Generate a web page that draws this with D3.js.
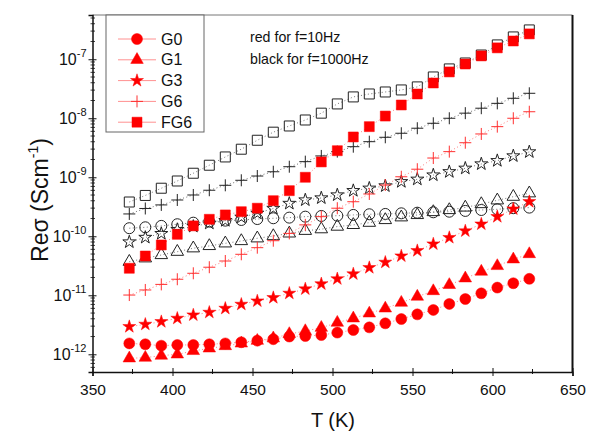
<!DOCTYPE html>
<html><head><meta charset="utf-8">
<script src="https://cdn.jsdelivr.net/npm/d3@7"></script>
<style>body{margin:0;background:#fff} svg{display:block} text{font-family:"Liberation Sans",Arial,sans-serif}</style>
</head><body><svg id="c" width="589" height="433"></svg>
<script>
const temps = [373,383,393,403,413,423,433,443,453,463,473,483,493,503,513,523,533,543,553,563,573,583,593,603,613,623];
// 10 Hz (red, filled)
const G0_10Hz = [1.53e-12,1.48e-12,1.40e-12,1.44e-12,1.44e-12,1.48e-12,1.53e-12,1.60e-12,1.70e-12,1.80e-12,2.0e-12,2.04e-12,2.12e-12,2.33e-12,2.58e-12,2.86e-12,3.35e-12,3.96e-12,4.75e-12,5.64e-12,7.13e-12,8.65e-12,1.08e-11,1.35e-11,1.60e-11,1.90e-11];
const G1_10Hz = [8.55e-13,8.77e-13,9.5e-13,9.97e-13,1.14e-12,1.26e-12,1.38e-12,1.53e-12,1.70e-12,1.87e-12,2.21e-12,2.48e-12,2.82e-12,3.44e-12,4.07e-12,4.94e-12,6.0e-12,7.5e-12,9.5e-12,1.18e-11,1.50e-11,1.94e-11,2.52e-11,3.14e-11,4.07e-11,5.0e-11];
const G3_10Hz = [2.94e-12,3.22e-12,3.57e-12,4.07e-12,4.63e-12,5.14e-12,6.0e-12,7.03e-12,8.0e-12,9.12e-12,1.08e-11,1.28e-11,1.56e-11,1.90e-11,2.30e-11,2.94e-11,3.62e-11,4.63e-11,5.70e-11,7.40e-11,9.5e-11,1.23e-10,1.61e-10,2.15e-10,2.90e-10,3.86e-10];
const G6_10Hz = [1.01e-11,1.23e-11,1.53e-11,1.87e-11,2.36e-11,2.99e-11,3.81e-11,4.95e-11,6.41e-11,8.41e-11,1.12e-10,1.56e-10,2.15e-10,2.99e-10,3.85e-10,5.21e-10,7.39e-10,1.02e-9,1.37e-9,2.12e-9,2.72e-9,3.85e-9,5.42e-9,7.21e-9,1.0e-8,1.29e-8];
const FG6_10Hz = [2.87e-11,4.63e-11,7.13e-11,1.08e-10,1.50e-10,1.94e-10,2.30e-10,2.61e-10,2.99e-10,4.01e-10,5.93e-10,1.0e-9,1.82e-9,2.82e-9,4.82e-9,7.21e-9,1.09e-8,1.68e-8,2.58e-8,3.96e-8,6.1e-8,8.3e-8,1.14e-7,1.56e-7,2.04e-7,2.69e-7];
// 1000 Hz (black, open)
const G0_1kHz = [1.37e-10,1.42e-10,1.50e-10,1.60e-10,1.70e-10,1.77e-10,1.84e-10,1.89e-10,1.96e-10,2.02e-10,2.07e-10,2.15e-10,2.21e-10,2.23e-10,2.30e-10,2.36e-10,2.39e-10,2.45e-10,2.51e-10,2.55e-10,2.61e-10,2.69e-10,2.79e-10,2.87e-10,2.99e-10,3.06e-10];
const G1_1kHz = [3.71e-11,4.24e-11,4.82e-11,5.48e-11,6.27e-11,6.86e-11,7.6e-11,8.32e-11,9.25e-11,1.01e-10,1.12e-10,1.24e-10,1.32e-10,1.46e-10,1.56e-10,1.70e-10,1.89e-10,2.10e-10,2.30e-10,2.58e-10,2.79e-10,3.08e-10,3.52e-10,4.07e-10,4.69e-10,5.36e-10];
const G3_1kHz = [8.0e-11,9.55e-11,1.11e-10,1.30e-10,1.47e-10,1.66e-10,1.84e-10,2.10e-10,2.45e-10,2.96e-10,3.60e-10,4.12e-10,4.46e-10,5.01e-10,5.93e-10,6.52e-10,7.13e-10,8.41e-10,9.25e-10,1.09e-9,1.24e-9,1.42e-9,1.68e-9,1.91e-9,2.30e-9,2.69e-9];
const G6_1kHz = [2.39e-10,2.96e-10,3.40e-10,4.12e-10,5.01e-10,6.03e-10,7.31e-10,8.89e-10,1.05e-9,1.24e-9,1.51e-9,1.84e-9,2.30e-9,2.72e-9,3.30e-9,4.01e-9,4.76e-9,5.57e-9,6.78e-9,8.22e-9,1.0e-8,1.22e-8,1.48e-8,1.79e-8,2.18e-8,2.65e-8];
const FG6_1kHz = [3.81e-10,4.92e-10,6.52e-10,8.65e-10,1.17e-9,1.60e-9,2.21e-9,2.99e-9,4.24e-9,5.81e-9,7.40e-9,9.35e-9,1.22e-8,1.75e-8,2.30e-8,2.58e-8,2.79e-8,3.02e-8,3.40e-8,5.01e-8,6.86e-8,8.65e-8,1.18e-7,1.75e-7,2.39e-7,3.14e-7];

const seriesNames = ["G0","G1","G3","G6","FG6"];
const xTicks = [350,400,450,500,550,600,650];
const yTickExps = [-12,-11,-10,-9,-8,-7];
const annotations = ["red for f=10Hz","black for f=1000Hz"];

const svg = d3.select("#c");
const L=92.5, R=572.5, T=15, B=372;
const x = d3.scaleLinear().domain([350,650]).range([L,R]);
const y = d3.scaleLog().domain([Math.pow(10,-12.3), Math.pow(10,-6.25)]).range([B,T]);

const plusType = {draw(ctx,size){const r=Math.sqrt(size)/2;ctx.moveTo(-r,0);ctx.lineTo(r,0);ctx.moveTo(0,-r);ctx.lineTo(0,r);}};
const shapes = {
  G0:{type:d3.symbolCircle,size:95},
  G1:{type:d3.symbolTriangle,size:68},
  G3:{type:d3.symbolStar,size:52},
  G6:{type:plusType,size:144},
  FG6:{type:d3.symbolSquare,size:100}
};
const redData = {G0:G0_10Hz,G1:G1_10Hz,G3:G3_10Hz,G6:G6_10Hz,FG6:FG6_10Hz};
const blackData = {G0:G0_1kHz,G1:G1_1kHz,G3:G3_1kHz,G6:G6_1kHz,FG6:FG6_1kHz};

const line = d3.line().x((d,i)=>x(temps[i])).y(d=>y(d));
const plot = svg.append("g");

function drawSeries(data, name, red){
  plot.append("path").attr("d", line(data)).attr("fill","none")
    .attr("stroke", red ? "#ff7070" : "#666").attr("stroke-width",0.9)
    .attr("stroke-dasharray","1,2.5");
  const sh = shapes[name];
  const sym = d3.symbol().type(sh.type).size(sh.size);
  plot.append("g").selectAll("path").data(data).join("path")
    .attr("transform",(d,i)=>`translate(${x(temps[i])},${y(d)})`)
    .attr("d", sym)
    .attr("fill", name==="G6" ? "none" : (red ? "#ff0000" : "none"))
    .attr("stroke", red ? (name==="G6" ? "#ff3030" : "#ff0000") : "#222")
    .attr("stroke-width", red ? (name==="G6"?1:0.5) : 1);
}
seriesNames.forEach(n=>drawSeries(blackData[n], n, false));
seriesNames.forEach(n=>drawSeries(redData[n], n, true));

// frame
svg.append("line").attr("x1",L).attr("x2",R).attr("y1",T).attr("y2",T).attr("stroke","#777").attr("stroke-width",1);
svg.append("line").attr("x1",R).attr("x2",R).attr("y1",T).attr("y2",B).attr("stroke","#111").attr("stroke-width",2);

// x axis
const xAxis = svg.append("g").attr("transform",`translate(0,${B})`)
  .call(d3.axisBottom(x).tickValues(xTicks).tickSize(4).tickPadding(8).tickFormat(d3.format("d")));
xAxis.select(".domain").attr("stroke","#111").attr("stroke-width",1.5);
xAxis.selectAll(".tick line").attr("y1",-4).attr("y2",4).attr("stroke","#111");
xAxis.selectAll("text").attr("font-size","15.5px").attr("fill","#111").attr("font-family",'"Liberation Sans",Arial,sans-serif');
const xMinor = xTicks.slice(0,-1).map(v=>v+25);
svg.append("g").selectAll("line").data(xMinor).join("line")
  .attr("x1",d=>x(d)).attr("x2",d=>x(d)).attr("y1",B-3).attr("y2",B+2).attr("stroke","#111");

// y axis
const yMajor = yTickExps.map(e=>Math.pow(10,e));
const yAxis = svg.append("g").attr("transform",`translate(${L},0)`)
  .call(d3.axisLeft(y).tickValues(yMajor).tickSize(4).tickFormat(""));
yAxis.select(".domain").attr("stroke","#111").attr("stroke-width",1.5);
yAxis.selectAll(".tick line").attr("x1",-4).attr("x2",4).attr("stroke","#111");
const yMinor = [];
for(let e=-13;e<=-7;e++){for(let m=2;m<=9;m++){const v=m*Math.pow(10,e); if(v>y.domain()[0]&&v<y.domain()[1]) yMinor.push(v);}}
svg.append("g").selectAll("line").data(yMinor).join("line")
  .attr("x1",L-2).attr("x2",L+2.5).attr("y1",d=>y(d)).attr("y2",d=>y(d)).attr("stroke","#111").attr("stroke-width",0.8);
const yl = svg.append("g").selectAll("text").data(yTickExps).join("text")
  .attr("x",L-6).attr("y",e=>y(Math.pow(10,e))+6).attr("text-anchor","end").attr("fill","#111");
yl.append("tspan").attr("font-size","16px").text("10");
yl.append("tspan").attr("font-size","11px").attr("dy",-8).text(e=>"-"+Math.abs(e));

// axis titles
svg.append("text").attr("x",333).attr("y",427).attr("text-anchor","middle").attr("font-size","20px").attr("fill","#111").text("T (K)");
const yt = svg.append("text").attr("transform","translate(48,200) rotate(-90)").attr("text-anchor","middle").attr("font-size","23px").attr("fill","#111");
yt.append("tspan").text("Reσ (Scm");
yt.append("tspan").attr("font-size","14px").attr("dy",-10).text("-1");
yt.append("tspan").attr("dy",10).text(")");

// legend
svg.append("rect").attr("x",106).attr("y",T).attr("width",98).attr("height",117).attr("fill","#fff").attr("stroke","#666").attr("stroke-width",1);
seriesNames.forEach((n,i)=>{
  const ly = 39 + i*20.8;
  const g = svg.append("g");
  g.append("line").attr("x1",118).attr("x2",156).attr("y1",ly).attr("y2",ly).attr("stroke","#ff9090").attr("stroke-width",1);
  const sh = shapes[n];
  g.append("path").attr("transform",`translate(137,${ly})`).attr("d",d3.symbol().type(sh.type).size(sh.size))
    .attr("fill", n==="G6"?"none":"#ff0000").attr("stroke", n==="G6"?"#ff3030":"#ff0000").attr("stroke-width", n==="G6"?1:0.5);
  g.append("text").attr("x",161).attr("y",ly+5.5).attr("font-size","16px").attr("fill","#111").text(n);
});

// annotations
annotations.forEach((t,i)=>{
  svg.append("text").attr("x",250).attr("y",42+i*21.5).attr("font-size","14.2px").attr("fill","#111").text(t);
});
</script></body></html>
